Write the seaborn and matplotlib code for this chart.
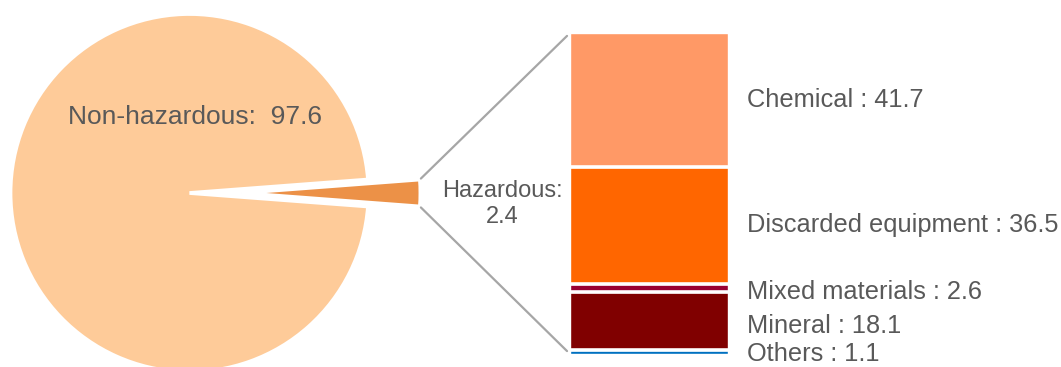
import matplotlib
matplotlib.use("Agg")
import matplotlib.pyplot as plt
from matplotlib.patches import ConnectionPatch
import numpy as np
import pandas as pd
import seaborn as sns

# Overall split of waste (%)
split_labels = ["Hazardous", "Non-hazardous"]
split_values = [2.4, 97.6]
split_colors = ["#EC9147", "#FECB99"]

# Breakdown of hazardous waste (%), listed top to bottom
haz_categories = ["Chemical", "Discarded equipment", "Mixed materials", "Mineral", "Others"]
haz_values = [41.7, 36.5, 2.6, 18.1, 1.1]
haz_colors = ["#FF9966", "#FF6600", "#990033", "#800000", "#0070C0"]

sns.set_theme(style="white")
plt.rcParams["font.family"] = ["Liberation Sans", "DejaVu Sans"]
TEXT = "#595959"
LINE = "#A6A6A6"

W, H = 1061, 367
fig = plt.figure(figsize=(W / 100, H / 100), dpi=100)

# --- pie of the overall split ---------------------------------------------
R = 179.0            # pie radius in pixels
cx, cy = 189.5, 193  # pie centre in pixels (from top-left)
ax_pie = fig.add_axes([0, 0, 1, 1])
half = split_values[0] * 3.6 / 2
wedges, _ = ax_pie.pie(
    split_values, colors=split_colors, startangle=-half, counterclock=True,
    radius=1, center=(0, 0), explode=[0.29, 0],
    wedgeprops=dict(edgecolor="white", linewidth=2.7),
)
ax_pie.set_xlim(-cx / R, (W - cx) / R)
ax_pie.set_ylim(-(H - cy) / R, cy / R)
ax_pie.set_aspect("equal")
ax_pie.axis("off")

fig.text(194.5 / W, 1 - 117 / H, f"{split_labels[1]}:  {split_values[1]}",
         ha="center", va="center", fontsize=19, color=TEXT)
fig.text(502 / W, 1 - 204 / H, f"{split_labels[0]}:\n{split_values[0]}",
         ha="center", va="center", fontsize=17, color=TEXT, linespacing=1.2)

# --- stacked bar of the hazardous breakdown --------------------------------
ax_bar = fig.add_axes([570 / W, 13 / H, 158 / W, 321 / H])
df = pd.DataFrame({"group": "Hazardous", "category": haz_categories, "value": haz_values})
df["bottom"] = sum(haz_values) - df["value"].cumsum()

for _, row in df.iterrows():
    c = haz_colors[haz_categories.index(row["category"])]
    sns.barplot(x=[row["group"]], y=[row["value"]], bottom=row["bottom"],
                color=c, saturation=1, width=1, ax=ax_bar)

# thin white separators between the stacked segments
for b in df["bottom"].iloc[:-1]:
    ax_bar.axhline(b, color="white", lw=2.6)

ax_bar.set_xlim(-0.5, 0.5)
ax_bar.set_ylim(0, sum(haz_values))
ax_bar.axis("off")

# labels sit beside each segment; the thin ones are spread apart a little
label_dy = [0, 0, -3, -3, -1.5]
for (_, row), dy in zip(df.iterrows(), label_dy):
    ax_bar.annotate(f"{row['category']} : {row['value']}",
                    xy=(0.5, row["bottom"] + row["value"] / 2),
                    xytext=(13.5, dy), textcoords="offset points",
                    ha="left", va="center", fontsize=18.3, color=TEXT,
                    annotation_clip=False)

# --- connector lines from the hazardous wedge to the bar -------------------
w = wedges[0]
wc = np.array(w.center)
for theta, ybar in ((w.theta2, sum(haz_values)), (w.theta1, 0)):
    t = np.deg2rad(theta)
    start = wc + w.r * np.array([np.cos(t), np.sin(t)])
    con = ConnectionPatch(xyA=tuple(start), coordsA=ax_pie.transData,
                          xyB=(-0.5, ybar), coordsB=ax_bar.transData,
                          color=LINE, lw=1.6, shrinkA=1, shrinkB=3)
    fig.add_artist(con)

fig.savefig("out.png", dpi=100)
